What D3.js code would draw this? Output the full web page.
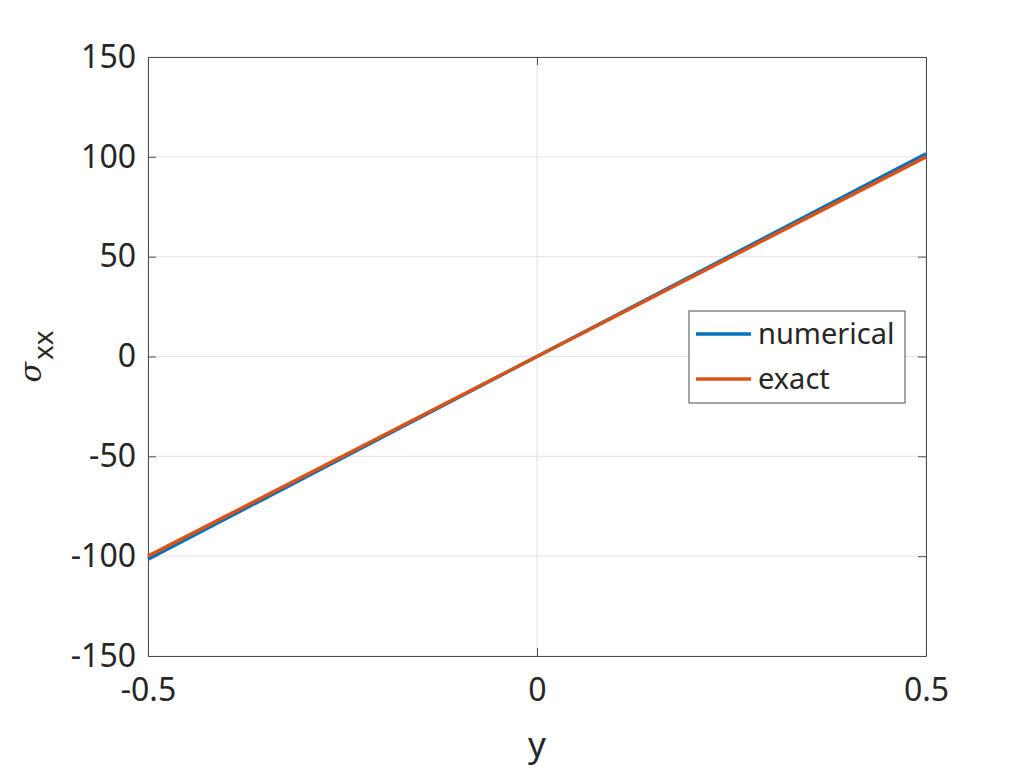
<!DOCTYPE html>
<html lang="en">
<head>
  <meta charset="UTF-8">
  <title>sigma_xx vs y</title>
  <style>
    body { margin: 0; background: #fff; font-family: "Noto Sans", sans-serif; }
    svg  { display: block; }
    .grid line { stroke: #e3e3e3; stroke-width: 1; }
    .axis path, .axis line { stroke: #4d4d4d; }
    .axis text { fill: #262626; font-size: 32px; font-family: "Noto Sans", sans-serif; }
    .series { fill: none; stroke-width: 3.5px; }
  </style>
</head>
<body>
  <svg id="chart" width="1024" height="768"></svg>

  <script src="https://d3js.org/d3.v7.min.js"></script>
  <script>
    // ---- data ----
    const yPos      = [-0.5, 0.5];
    const numerical = [-101.5, 101.5];
    const exact     = [-100, 100];
    const xTicks    = [-0.5, 0, 0.5];
    const yTicks    = [-150, -100, -50, 0, 50, 100, 150];
    const seriesNames  = ['numerical', 'exact'];
    const seriesColors = ['#0072BD', '#D95319'];

    const margin = { top: 57, right: 98, bottom: 112, left: 148 },
          W = 1024, H = 768,
          width  = W - margin.left - margin.right,
          height = H - margin.top - margin.bottom;

    const svg = d3.select('#chart');
    const g = svg.append('g')
                 .attr('transform', `translate(${margin.left},${margin.top})`);

    const x = d3.scaleLinear().domain([-0.5, 0.5]).range([0, width]);
    const y = d3.scaleLinear().domain([-150, 150]).range([height, 0]);

    // grid
    const grid = g.append('g').attr('class', 'grid');
    grid.selectAll('line.gx')
        .data(xTicks).enter().append('line')
        .attr('x1', d => x(d)).attr('x2', d => x(d))
        .attr('y1', 0).attr('y2', height);
    grid.selectAll('line.gy')
        .data(yTicks).enter().append('line')
        .attr('y1', d => y(d)).attr('y2', d => y(d))
        .attr('x1', 0).attr('x2', width);

    // axes (ticks pointing inward, box on)
    const tk = 8;
    const fmt = d => String(d).replace('\u2212', '-');
    g.append('g').attr('class', 'axis')
        .attr('transform', `translate(0,${height})`)
        .call(d3.axisBottom(x).tickValues(xTicks).tickSizeInner(-tk).tickSizeOuter(0)
               .tickPadding(22).tickFormat(fmt));
    g.append('g').attr('class', 'axis')
        .call(d3.axisTop(x).tickValues(xTicks).tickSizeInner(-tk).tickSizeOuter(0).tickFormat(''));
    g.append('g').attr('class', 'axis')
        .call(d3.axisLeft(y).tickValues(yTicks).tickSizeInner(-tk).tickSizeOuter(0)
               .tickPadding(12).tickFormat(fmt));
    g.append('g').attr('class', 'axis')
        .attr('transform', `translate(${width},0)`)
        .call(d3.axisRight(y).tickValues(yTicks).tickSizeInner(-tk).tickSizeOuter(0).tickFormat(''));

    // lines
    const series = [numerical, exact];
    const line = d3.line().x(d => x(d[0])).y(d => y(d[1]));
    series.forEach((vals, i) => {
      g.append('path')
       .datum(yPos.map((v, j) => [v, vals[j]]))
       .attr('class', 'series')
       .attr('stroke', seriesColors[i])
       .attr('d', line);
    });

    // axis labels
    svg.append('text')
       .attr('x', margin.left + x(0))
       .attr('y', 757)
       .attr('text-anchor', 'middle')
       .attr('fill', '#262626')
       .style('font-size', '35px')
       .text('y');

    const yl = svg.append('text')
       .attr('transform', `translate(41,${margin.top + y(0)}) rotate(-90)`)
       .attr('text-anchor', 'middle')
       .attr('fill', '#262626')
       .style('font-size', '30px');
    yl.append('tspan')
      .style('font-family', '"DejaVu Serif", serif')
      .style('font-style', 'italic')
      .text('σ');
    yl.append('tspan').attr('dy', 12).attr('dx', 2).style('font-size', '28px').text('xx');

    // legend
    const lg = svg.append('g').attr('transform', 'translate(689,311)');
    lg.append('rect')
      .attr('width', 216).attr('height', 92)
      .attr('fill', '#fff').attr('stroke', '#4d4d4d').attr('stroke-width', 1);
    seriesNames.forEach((name, i) => {
      const cy = 23 + i * 45;
      lg.append('line')
        .attr('x1', 7).attr('x2', 62).attr('y1', cy).attr('y2', cy)
        .attr('stroke', seriesColors[i]).attr('stroke-width', 3.5);
      lg.append('text')
        .attr('x', 69).attr('y', cy).attr('dy', '0.35em')
        .attr('fill', '#262626')
        .style('font-size', '29px')
        .text(name);
    });
  </script>
</body>
</html>
